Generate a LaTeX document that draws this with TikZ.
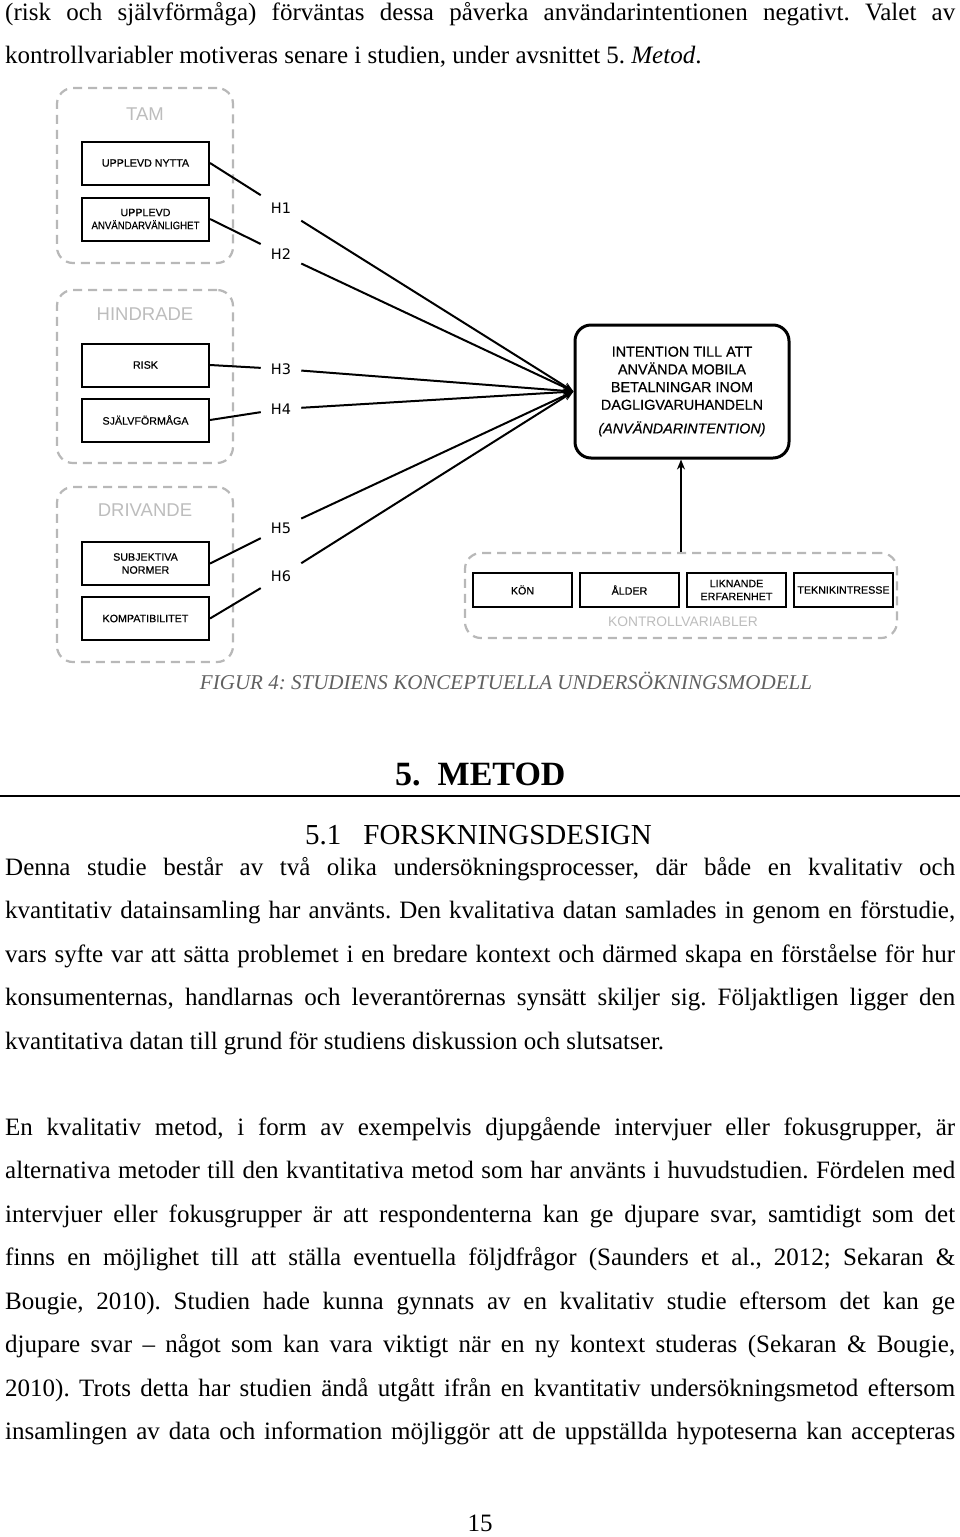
\documentclass[tikz,border=0pt]{standalone}
\usepackage{graphicx}
\usepackage{fontspec}
\setmainfont{Liberation Serif}
\setsansfont{Liberation Sans}
\newfontfamily\hfont{DejaVu Sans}
\newfontfamily\boxfont[FakeBold=0.5]{Liberation Sans}
\usetikzlibrary{arrows.meta, positioning}

\definecolor{dashgray}{gray}{0.72}
\definecolor{lblgray}{gray}{0.74}
\newcommand\jline[1]{\makebox[950pt][s]{#1}}
\newcommand\bodyfont{\fontsize{25}{30}\selectfont\spaceskip=0.25em plus 0.5em minus 0.12em\relax}
\frenchspacing

\tikzset{
    grp/.style={draw=dashgray, line width=2.2pt, dash pattern=on 9pt off 6pt, rounded corners=16pt, inner sep=0pt},
    grplbl/.style={text=lblgray, inner sep=0pt, font=\sffamily\fontsize{18.5}{20}\selectfont},
    varbox/.style={draw, line width=2pt, minimum width=127pt, minimum height=43pt, inner sep=1pt, align=center, font=\boxfont\fontsize{10.7}{13}\selectfont},
    cvbox/.style={varbox, minimum width=99pt, minimum height=34pt},
    mainbox/.style={draw, line width=3pt, rounded corners=16pt, minimum width=214pt, minimum height=133pt, align=center, font=\boxfont\fontsize{14.4}{17.7}\selectfont},
    hyp/.style={inner sep=10pt, font=\hfont\fontsize{14.5}{16}\selectfont},
    link/.style={line width=2pt},
    tip/.style={-{Stealth[length=10pt, width=8pt]}},
    body/.style={anchor=base west, inner sep=0pt, font=\bodyfont}
}

\begin{document}
\begin{tikzpicture}[x=1pt, y=-1pt]
\useasboundingbox (0,0) rectangle (960,1537);
\fill[white] (0,0) rectangle (960,1537);

% text above the figure
\node[body] (l01) at (5,20) {\jline{(risk och självförmåga) förväntas dessa påverka användarintentionen negativt. Valet av}};
\node[body] (l02) at (5,63.5) {kontrollvariabler motiveras senare i studien, under avsnittet 5. \textit{Metod}.};

% groups
\node[grp, minimum width=176pt, minimum height=175pt] (tam) at (145,175.5) {};
\node[grp, minimum width=176pt, minimum height=173pt] (hind) at (145,376.5) {};
\node[grp, minimum width=176pt, minimum height=175pt] (driv) at (145,574.5) {};
\node[grplbl] (tamlbl) at (145,114) {TAM};
\node[grplbl] (hindlbl) at (145,314) {HINDRADE};
\node[grplbl] (drivlbl) at (145,510) {DRIVANDE};

% variables
\node[varbox] (nytta) at (145.5,163) {UPPLEVD NYTTA};
\node[varbox, below=11pt of nytta] (anv) {UPPLEVD\\\scalebox{0.9}[1]{ANVÄNDARVÄNLIGHET}};
\node[varbox] (risk) at (145.5,365) {RISK};
\node[varbox, below=10pt of risk] (sjalv) {SJÄLVFÖRMÅGA};
\node[varbox] (subj) at (145.5,563.5) {SUBJEKTIVA\\NORMER};
\node[varbox, below=10pt of subj] (komp) {KOMPATIBILITET};

% hypotheses
\node[hyp] (h1) at (281,208) {H1};
\node[hyp] (h2) at (281,254) {H2};
\node[hyp] (h3) at (281,369) {H3};
\node[hyp] (h4) at (281,409) {H4};
\node[hyp] (h5) at (281,528) {H5};
\node[hyp] (h6) at (281,576) {H6};

\node[mainbox] (intent) at (682,391.5) {INTENTION TILL ATT\\ANVÄNDA MOBILA\\BETALNINGAR INOM\\DAGLIGVARUHANDELN\\[6pt]\textit{(ANVÄNDARINTENTION)}};

\foreach \b/\h in {nytta/h1, anv/h2, risk/h3, sjalv/h4, subj/h5, komp/h6} {
    \draw[link] (\b.east) -- (\h);
    \draw[link, tip] (\h) -- (intent.west);
}

% control variables
\node[grp, minimum width=432pt, minimum height=85pt] (ctrl) at (681,595.5) {};
\node[cvbox] (kon) at (522.5,590) {KÖN};
\node[cvbox, right=6pt of kon] (alder) {ÅLDER};
\node[cvbox, right=6pt of alder] (likn) {LIKNANDE\\ERFARENHET};
\node[cvbox, right=6pt of likn] (tekn) {TEKNIKINTRESSE};
\node[grplbl, font=\sffamily\fontsize{13.8}{16}\selectfont] (ctrllbl) at (683,622) {KONTROLLVARIABLER};
\draw[link, tip] (ctrl.north) -- (ctrl.north |- intent.south);

% caption
\node[inner sep=0pt, text=black!62, font=\itshape\fontsize{18}{20}\selectfont] (cap) at (506,681) {\resizebox{612pt}{!}{FIGUR 4: STUDIENS KONCEPTUELLA UNDERSÖKNINGSMODELL}};

% headings
\node[anchor=base west, inner sep=0pt, font=\bfseries\fontsize{34}{38}\selectfont] (sec) at (395,785) {5.\hspace{17pt}METOD};
\draw[line width=2.5pt] (0,796) -- (960,796);
\node[anchor=base west, inner sep=0pt, font=\fontsize{29}{33}\selectfont] (subsec) at (305,844) {5.1\hspace{22pt}FORSKNINGSDESIGN};

% first paragraph
\node[body] (l11) at (5,875) {\jline{Denna studie består av två olika undersökningsprocesser, där både en kvalitativ och}};
\node[body] (l12) at (5,918.5) {\jline{kvantitativ datainsamling har använts. Den kvalitativa datan samlades in genom en förstudie,}};
\node[body] (l13) at (5,962) {\jline{vars syfte var att sätta problemet i en bredare kontext och därmed skapa en förståelse för hur}};
\node[body] (l14) at (5,1005) {\jline{konsumenternas, handlarnas och leverantörernas synsätt skiljer sig. Följaktligen ligger den}};
\node[body] (l15) at (5,1049) {kvantitativa datan till grund för studiens diskussion och slutsatser.};

% second paragraph
\node[body] (l21) at (5,1135) {\jline{En kvalitativ metod, i form av exempelvis djupgående intervjuer eller fokusgrupper, är}};
\node[body] (l22) at (5,1178.5) {\jline{alternativa metoder till den kvantitativa metod som har använts i huvudstudien. Fördelen med}};
\node[body] (l23) at (5,1222) {\jline{intervjuer eller fokusgrupper är att respondenterna kan ge djupare svar, samtidigt som det}};
\node[body] (l24) at (5,1265.5) {\jline{finns en möjlighet till att ställa eventuella följdfrågor (Saunders et al., 2012; Sekaran \&}};
\node[body] (l25) at (5,1309) {\jline{Bougie, 2010). Studien hade kunna gynnats av en kvalitativ studie eftersom det kan ge}};
\node[body] (l26) at (5,1352.5) {\jline{djupare svar – något som kan vara viktigt när en ny kontext studeras (Sekaran \& Bougie,}};
\node[body] (l27) at (5,1396) {\jline{2010). Trots detta har studien ändå utgått ifrån en kvantitativ undersökningsmetod eftersom}};
\node[body] (l28) at (5,1439.5) {\jline{insamlingen av data och information möjliggör att de uppställda hypoteserna kan accepteras}};

\node[anchor=base, inner sep=0pt, font=\fontsize{25}{28}\selectfont] (pnum) at (480,1531) {15};
\end{tikzpicture}
\end{document}
